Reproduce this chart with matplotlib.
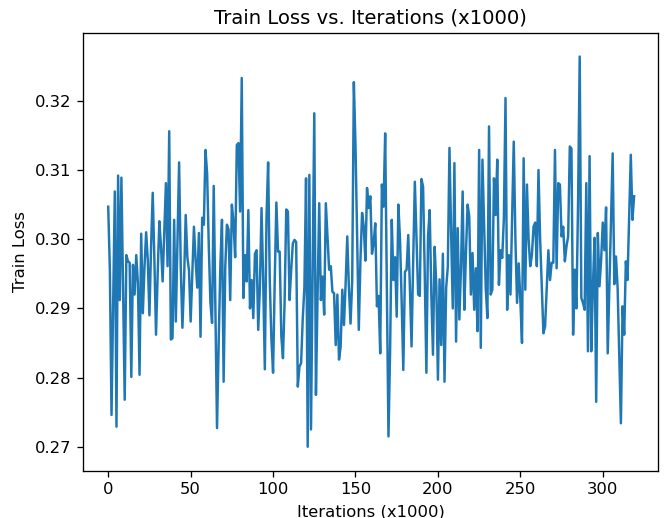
import matplotlib
matplotlib.use("Agg")
import matplotlib.pyplot as plt

title = "Train Loss vs. Iterations (x1000)"
xlabel = "Iterations (x1000)"
ylabel = "Train Loss"

train_loss = [
    0.3047, 0.2955, 0.2746, 0.2905, 0.3069, 0.2729, 0.3092, 0.2912, 0.3089, 0.2930,
    0.2768, 0.2977, 0.2968, 0.2966, 0.2801, 0.2963, 0.2920, 0.2977, 0.2937, 0.2804,
    0.3008, 0.2893, 0.2960, 0.3010, 0.2970, 0.2890, 0.2990, 0.3067, 0.2970, 0.2862,
    0.2950, 0.3026, 0.2990, 0.2939, 0.3010, 0.3081, 0.2961, 0.3156, 0.2855, 0.2857,
    0.3028, 0.2881, 0.3000, 0.3111, 0.2960, 0.2872, 0.2940, 0.3035, 0.2974, 0.2955,
    0.2881, 0.2950, 0.3018, 0.2970, 0.2930, 0.3009, 0.2859, 0.3031, 0.3021, 0.3129,
    0.3095, 0.2990, 0.2908, 0.2879, 0.3077, 0.2900, 0.2727, 0.2850, 0.2960, 0.3028,
    0.2794, 0.2960, 0.3021, 0.3014, 0.2912, 0.3050, 0.3024, 0.2974, 0.3136, 0.3139,
    0.3040, 0.3233, 0.2915, 0.2977, 0.2939, 0.3042, 0.2900, 0.2941, 0.2886, 0.2979,
    0.2984, 0.2869, 0.2930, 0.3045, 0.2940, 0.2812, 0.3030, 0.3111, 0.2940, 0.2855,
    0.2807, 0.2940, 0.3053, 0.2982, 0.2982, 0.2860, 0.2828, 0.2910, 0.3043, 0.3040,
    0.2912, 0.2956, 0.2994, 0.2999, 0.2996, 0.2787, 0.2816, 0.2821, 0.2885, 0.2930,
    0.3088, 0.2700, 0.3093, 0.2725, 0.2950, 0.3182, 0.2775, 0.2920, 0.3052, 0.2912,
    0.2946, 0.2891, 0.3052, 0.3004, 0.2956, 0.2961, 0.2924, 0.2922, 0.2847, 0.2920,
    0.2826, 0.2845, 0.2927, 0.2876, 0.2935, 0.3004, 0.2930, 0.2878, 0.2940, 0.3227,
    0.3135, 0.3000, 0.2869, 0.2970, 0.3038, 0.3018, 0.2969, 0.3074, 0.3045, 0.3062,
    0.2979, 0.2994, 0.3023, 0.2903, 0.2918, 0.2835, 0.3079, 0.3047, 0.3153, 0.2940,
    0.2715, 0.2840, 0.3028, 0.2941, 0.2974, 0.2888, 0.3050, 0.3000, 0.2910, 0.2811,
    0.2953, 0.2956, 0.3006, 0.2930, 0.2845, 0.2970, 0.3083, 0.3000, 0.2920, 0.2918,
    0.3087, 0.3076, 0.2950, 0.2807, 0.3004, 0.3042, 0.2920, 0.2833, 0.2989, 0.2935,
    0.2797, 0.2942, 0.2847, 0.2979, 0.2794, 0.2930, 0.2960, 0.3132, 0.3010, 0.2900,
    0.3110, 0.2852, 0.3016, 0.2884, 0.2960, 0.3069, 0.2898, 0.2980, 0.3050, 0.3033,
    0.2920, 0.2980, 0.2898, 0.2958, 0.2867, 0.3129, 0.2843, 0.3115, 0.3020, 0.2930,
    0.2886, 0.3163, 0.2920, 0.2927, 0.3088, 0.3035, 0.3115, 0.2934, 0.2984, 0.2973,
    0.3030, 0.3204, 0.2898, 0.2977, 0.2920, 0.3030, 0.3141, 0.3000, 0.2908, 0.2965,
    0.2912, 0.2850, 0.3117, 0.2927, 0.3079, 0.3000, 0.2961, 0.2977, 0.3018, 0.3024,
    0.2961, 0.3100, 0.3000, 0.2930, 0.2864, 0.2874, 0.2930, 0.2984, 0.2941, 0.2966,
    0.2966, 0.3129, 0.2958, 0.3081, 0.3079, 0.3004, 0.3018, 0.2968, 0.2990, 0.3004,
    0.3134, 0.3131, 0.2862, 0.2956, 0.2900, 0.3050, 0.3264, 0.2915, 0.2908, 0.2898,
    0.3081, 0.2838, 0.3120, 0.2838, 0.2930, 0.3002, 0.2765, 0.3009, 0.2932, 0.2970,
    0.3024, 0.2984, 0.3046, 0.2835, 0.2930, 0.3030, 0.3124, 0.2935, 0.2975, 0.2930,
    0.2830, 0.2734, 0.2903, 0.2862, 0.2968, 0.2941, 0.3030, 0.3122, 0.3028, 0.3062,
]
iterations = list(range(len(train_loss)))

DPI = 118
fig = plt.figure(figsize=(665 / DPI, 518 / DPI), dpi=DPI)
ax = fig.add_subplot(111)
fig.subplots_adjust(left=83/665, right=658/665, top=1-33/518, bottom=1-471/518)
ax.plot(iterations, train_loss, color="#1f77b4", linewidth=1.5)
ax.set_xlim(-15.3, 333.5)
ax.set_ylim(0.2665, 0.3298)
ax.set_title(title)
ax.set_xlabel(xlabel)
ax.set_ylabel(ylabel)
fig.savefig("out.png", dpi=DPI)
